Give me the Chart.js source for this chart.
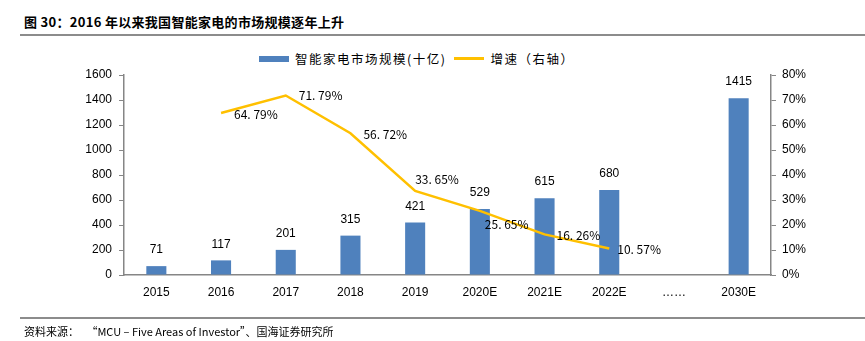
<!DOCTYPE html>
<html><head><meta charset="utf-8">
<script src="https://cdn.jsdelivr.net/npm/chart.js@4/dist/chart.umd.min.js"></script>
<style>
body{margin:0;background:#fff;width:865px;height:341px;overflow:hidden;position:relative;font-family:"Noto Sans CJK SC",sans-serif;}
#title{position:absolute;left:24px;top:12px;font-size:13px;font-weight:bold;color:#000;letter-spacing:0.3px;}
#hl1{position:absolute;left:20px;top:34px;width:845px;height:2px;background:#8c8c8c;}
#hl2{position:absolute;left:20px;top:317px;width:845px;height:2px;background:#8c8c8c;}
#foot{position:absolute;left:24px;top:323px;font-size:11px;color:#000;}
#legend{position:absolute;left:259px;top:49px;font-size:12.5px;color:#000;display:flex;align-items:center;letter-spacing:1.5px;}
.sw{display:inline-block;width:30px;margin-right:6px;}
canvas{position:absolute;left:0;top:0;}
</style></head><body>
<div id="title">图 30：2016 年以来我国智能家电的市场规模逐年上升</div>
<div id="hl1"></div>
<div id="legend"><span class="sw" style="height:6px;background:#4F81BD"></span><span id="l1"></span><span class="sw" style="height:3px;background:#FFC000;margin-left:8px"></span><span id="l2"></span></div>
<canvas id="c" width="865" height="341"></canvas>
<div id="hl2"></div>
<div id="foot">资料来源：&nbsp;&nbsp;&nbsp;“MCU – Five Areas of Investor”、国海证券研究所</div>
<script>
const categories = ["2015","2016","2017","2018","2019","2020E","2021E","2022E","……","2030E"];
const marketSize = [71,117,201,315,421,529,615,680,null,1415];
const growthRate = [null,64.79,71.79,56.72,33.65,25.65,16.26,10.57,null,null];
const growthLabels = ["","64. 79%","71. 79%","56. 72%","33. 65%","25. 65%","16. 26%","10. 57%","",""];
const leftTicks = [0,200,400,600,800,1000,1200,1400,1600];
const rightTicks = [0,10,20,30,40,50,60,70,80];
const seriesNames = ["智能家电市场规模(十亿)","增速（右轴）"];

document.getElementById('l1').textContent = seriesNames[0];
document.getElementById('l2').textContent = seriesNames[1];

const labelOffsets = [[0,0],[13,1],[13,0],[13,1],[0,-11],[5,14],[12,1],[8,1],[0,0],[0,0]];

const labelPlugin = {
  id:'labels',
  afterDatasetsDraw(chart){
    const ctx = chart.ctx;
    ctx.save();
    ctx.fillStyle = '#000';
    ctx.font = '12px "Liberation Sans", sans-serif';
    ctx.textAlign = 'center';
    ctx.textBaseline = 'middle';
    const bm = chart.getDatasetMeta(0);
    bm.data.forEach((el,i)=>{
      if(marketSize[i]==null) return;
      ctx.fillText(String(marketSize[i]), el.x, el.y-16);
    });
    const lm = chart.getDatasetMeta(1);
    ctx.textAlign = 'left';
    ctx.font = '12px "Noto Sans CJK SC", sans-serif';
    lm.data.forEach((el,i)=>{
      if(growthRate[i]==null) return;
      const o = labelOffsets[i];
      ctx.fillText(growthLabels[i], el.x+o[0], el.y+o[1]);
    });
    ctx.restore();
  }
};

new Chart(document.getElementById('c'),{
  data:{
    labels:categories,
    datasets:[
      {type:'bar',label:seriesNames[0],data:marketSize,backgroundColor:'#4F81BD',yAxisID:'y',barPercentage:0.62,categoryPercentage:0.5,order:2},
      {type:'line',label:seriesNames[1],data:growthRate,borderColor:'#FFC000',borderWidth:2.5,pointRadius:0,tension:0,yAxisID:'y1',spanGaps:false,order:1}
    ]
  },
  options:{
    responsive:false,animation:false,
    layout:{padding:{top:75,bottom:41,left:0,right:0}},
    plugins:{legend:{display:false},tooltip:{enabled:false}},
    scales:{
      x:{
        grid:{display:false,drawTicks:false},
        border:{color:'#868686',width:1.5},
        ticks:{color:'#000',font:{size:12,family:'"Liberation Sans", sans-serif'},padding:10,maxRotation:0,autoSkip:false},
        afterFit(s){s.height=25;}
      },
      y:{
        position:'left',min:0,max:1600,
        afterBuildTicks(s){s.ticks=leftTicks.map(v=>({value:v}));},
        grid:{drawOnChartArea:false,tickLength:5,color:'#868686'},
        border:{color:'#868686',width:1.5},
        ticks:{color:'#000',font:{size:12,family:'"Liberation Sans", sans-serif'},padding:7,callback:v=>String(v)},
        afterFit(s){s.width=124;}
      },
      y1:{
        position:'right',min:0,max:80,
        afterBuildTicks(s){s.ticks=rightTicks.map(v=>({value:v}));},
        grid:{drawOnChartArea:false,tickLength:5,color:'#868686'},
        border:{color:'#868686',width:1.5},
        ticks:{color:'#000',font:{size:12,family:'"Liberation Sans", sans-serif'},padding:6,callback:v=>v+'%'},
        afterFit(s){s.width=94;}
      }
    }
  },
  plugins:[labelPlugin]
});
</script>
</body></html>
